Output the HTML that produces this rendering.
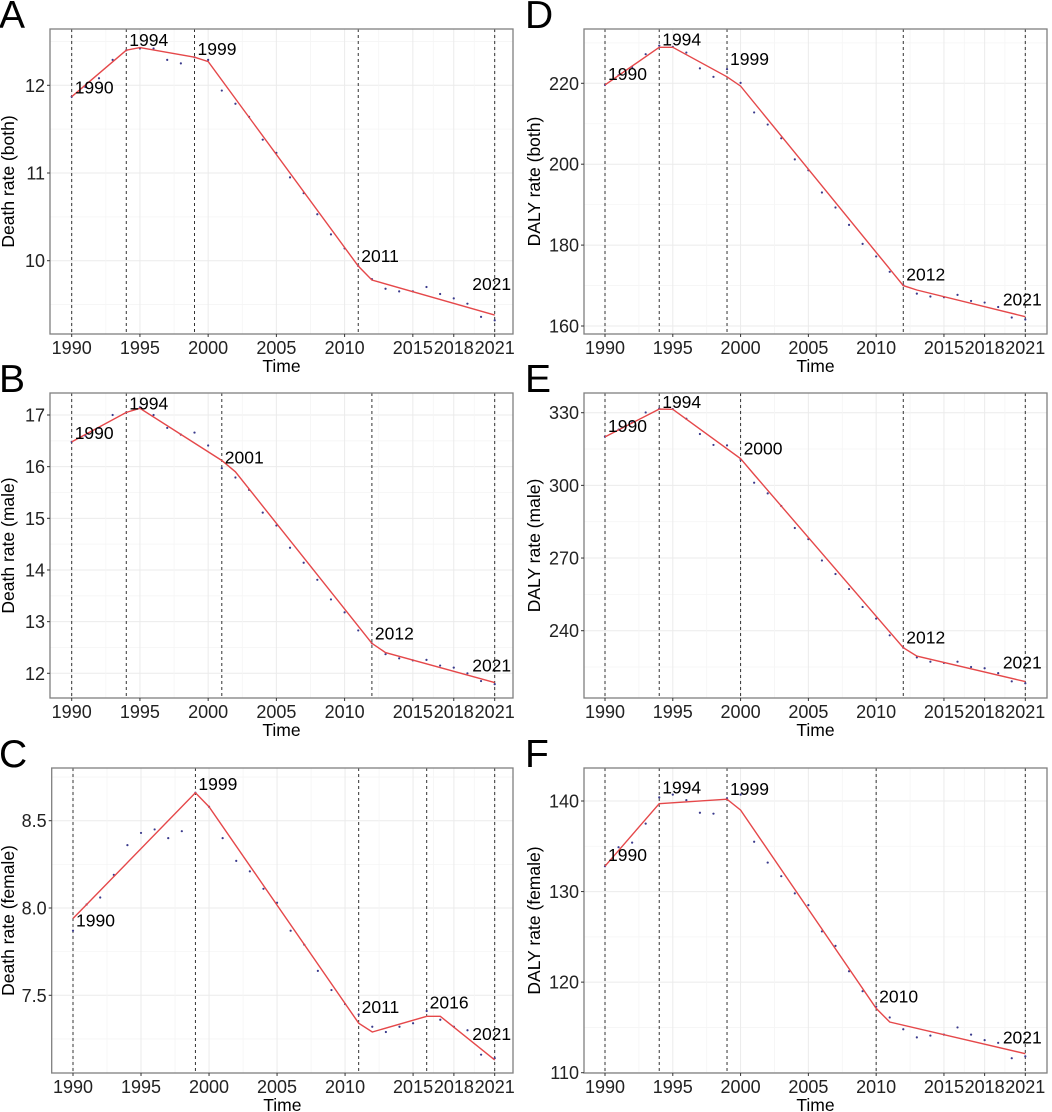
<!DOCTYPE html>
<html><head><meta charset="utf-8">
<style>
html,body{margin:0;padding:0;background:#fff;}
svg{display:block;font-family:"Liberation Sans",Arial,sans-serif;}
</style></head>
<body>
<svg id="fig" width="1052" height="1112" viewBox="0 0 1052 1112"></svg>
<script>
// ---- data ----
const years = [1990,1991,1992,1993,1994,1995,1996,1997,1998,1999,2000,2001,2002,2003,2004,2005,2006,2007,2008,2009,2010,2011,2012,2013,2014,2015,2016,2017,2018,2019,2020,2021];
const xTicks = [1990,1995,2000,2005,2010,2015,2018,2021];

const deathBoth = [11.87,11.98,12.08,12.29,12.40,12.42,12.42,12.29,12.25,12.32,12.29,11.94,11.79,11.64,11.38,11.23,10.95,10.77,10.53,10.30,10.14,9.94,9.79,9.68,9.65,9.65,9.70,9.62,9.57,9.51,9.36,9.32];
const fitYearsA = [1990,1994,1995,1999,2000,2011,2012,2021];
const fitA = [11.87,12.40,12.43,12.32,12.27,9.94,9.78,9.38];
const breaksA = [1990,1994,1999,2011,2021];
const yTicksA = [10,11,12];

const deathMale = [16.48,16.60,16.75,17.00,17.05,17.15,17.00,16.75,16.62,16.66,16.41,15.97,15.79,15.55,15.11,14.86,14.43,14.14,13.81,13.43,13.18,12.83,12.58,12.37,12.29,12.25,12.26,12.15,12.11,12.00,11.85,11.79];
const fitYearsB = [1990,1994,1995,2001,2002,2012,2013,2021];
const fitB = [16.48,17.05,17.13,16.12,15.90,12.58,12.40,11.82];
const breaksB = [1990,1994,2001,2012,2021];
const yTicksB = [12,13,14,15,16,17];

const deathFemale = [7.87,8.02,8.06,8.19,8.36,8.43,8.45,8.40,8.44,8.66,8.58,8.40,8.27,8.21,8.11,8.03,7.87,7.79,7.64,7.53,7.45,7.39,7.32,7.29,7.32,7.34,7.41,7.36,7.32,7.30,7.16,7.14];
const fitYearsC = [1990,1999,2000,2011,2012,2016,2017,2021];
const fitC = [7.94,8.66,8.58,7.34,7.29,7.38,7.38,7.13];
const breaksC = [1990,1999,2011,2016,2021];
const yTicksC = [7.5,8.0,8.5];

const dalyBoth = [219.6,222.0,224.0,227.2,229.3,229.0,227.6,223.7,221.6,223.5,220.1,212.8,209.8,206.4,201.2,198.5,193.0,189.3,185.0,180.3,177.2,173.4,170.1,168.0,167.3,167.1,167.7,166.2,165.8,164.7,162.1,161.6];
const fitYearsD = [1990,1994,1995,1999,2000,2012,2013,2021];
const fitD = [219.6,228.9,228.9,221.6,219.3,170.0,168.9,162.3];
const breaksD = [1990,1994,1999,2012,2021];
const yTicksD = [160,180,200,220];

const dalyMale = [320.1,323.0,326.0,330.1,331.7,331.5,327.5,321.2,316.7,316.5,310.5,301.1,296.7,291.5,282.4,277.8,269.0,263.4,257.2,249.8,245.0,238.1,233.0,229.0,227.2,226.7,227.2,225.0,224.5,222.5,219.1,218.3];
const fitYearsE = [1990,1994,1995,2000,2001,2012,2013,2021];
const fitE = [320.0,331.5,331.4,311.0,304.5,233.0,229.5,219.0];
const breaksE = [1990,1994,2000,2012,2021];
const yTicksE = [240,270,300,330];

const dalyFemale = [132.8,134.9,135.4,137.5,140.4,140.7,140.1,138.7,138.6,140.3,140.7,135.5,133.2,131.7,129.8,128.5,125.6,124.0,121.2,119.0,117.3,116.1,114.8,113.9,114.1,114.2,115.0,114.2,113.6,113.3,111.6,111.8];
const fitYearsF = [1990,1994,1999,2000,2010,2011,2021];
const fitF = [132.8,139.7,140.2,139.0,117.1,115.6,112.1];
const breaksF = [1990,1994,1999,2010,2021];
const yTicksF = [110,120,130,140];

// ---- layout (positions / styles) ----
const NS = "http://www.w3.org/2000/svg";
const svg = document.getElementById('fig');
function mk(tag, attrs, parent){
  const e = document.createElementNS(NS, tag);
  for (const k in attrs) e.setAttribute(k, attrs[k]);
  (parent||svg).appendChild(e);
  return e;
}

const panels = [
 {id:'a', letter:'A', title:'Death rate (both)', pts:deathBoth, fy:fitYearsA, fv:fitA, br:breaksA, yt:yTicksA, fmt:v=>String(v),
  box:[50,29,513,334], xr:[71.7,494.7], yr:[[12,85.3],[10,260.7]], dy:[-3,-4,-2,-4,-25], letterX:0, titleX:14},
 {id:'b', letter:'B', title:'Death rate (male)', pts:deathMale, fy:fitYearsB, fv:fitB, br:breaksB, yt:yTicksB, fmt:v=>String(v),
  box:[50,393,513,698], xr:[71.7,494.7], yr:[[17,415],[12,673.3]], dy:[-3,-3,3,-4,-11], letterX:0, titleX:14},
 {id:'c', letter:'C', title:'Death rate (female)', pts:deathFemale, fy:fitYearsC, fv:fitC, br:breaksC, yt:yTicksC, fmt:v=>v.toFixed(1),
  box:[51.7,768,513,1073], xr:[73,494.7], yr:[[8.5,820.7],[7.5,995.3]], dy:[8,-3,-10,-8,-20], letterX:0, titleX:14},
 {id:'d', letter:'D', title:'DALY rate (both)', pts:dalyBoth, fy:fitYearsD, fv:fitD, br:breaksD, yt:yTicksD, fmt:v=>String(v),
  box:[584,29,1047,334], xr:[605,1025.3], yr:[[220,83.3],[160,326]], dy:[-5,-2,-12,-5,-11], letterX:526, titleX:540},
 {id:'e', letter:'E', title:'DALY rate (male)', pts:dalyMale, fy:fitYearsE, fv:fitE, br:breaksE, yt:yTicksE, fmt:v=>String(v),
  box:[584,393,1047,698], xr:[605,1025.3], yr:[[330,412.7],[240,630.7]], dy:[-5,-1,-4,-4,-13], letterX:526, titleX:540},
 {id:'f', letter:'F', title:'DALY rate (female)', pts:dalyFemale, fy:fitYearsF, fv:fitF, br:breaksF, yt:yTicksF, fmt:v=>String(v),
  box:[584,768,1047,1073], xr:[605,1025.3], yr:[[140,801],[110,1072.7]], dy:[-5,-10,-4,-6,-10], letterX:526, titleX:540}
];

panels.forEach(p=>{
  const [x0,y0,x1,y1] = p.box;
  const xs = yr => p.xr[0] + (yr-1990)*(p.xr[1]-p.xr[0])/31;
  const [[va,pa],[vb,pb]] = p.yr;
  const ys = v => pa + (v-va)*(pb-pa)/(vb-va);
  const g = mk('g',{});
  
  

  const L = mk('text',{x:p.letterX-1, y:y0-1, 'font-size':39, fill:'#000'}, g);
  L.textContent = p.letter;
  
  

  const grid = mk('g',{}, g);
  
  
  const step = p.yt[1]-p.yt[0];
  const vals = [y0,y1].map(py=>va+(py-pa)*(vb-va)/(pb-pa));
  const vLow = Math.min(...vals), vHigh = Math.max(...vals);
  for (let v = p.yt[0]-step/2; v <= vHigh; v += step/2){
    if (v < vLow) continue;
    const py = ys(v);
    const major = p.yt.some(t=>Math.abs(t-v)<1e-9);
    mk('line',{x1:x0,x2:x1,y1:py,y2:py,stroke:major?'#ebebeb':'#f5f5f5','stroke-width':major?1:0.8}, grid);
  }
  const xMinor = [];
  for (let i=0;i<xTicks.length-1;i++) xMinor.push((xTicks[i]+xTicks[i+1])/2);
  xMinor.push(1987.5);
  xMinor.forEach(t=>{ const px=xs(t); if(px>x0&&px<x1) mk('line',{x1:px,x2:px,y1:y0,y2:y1,stroke:'#f5f5f5','stroke-width':0.8}, grid); });
  xTicks.forEach(t=>{ const px=xs(t); mk('line',{x1:px,x2:px,y1:y0,y2:y1,stroke:'#ebebeb','stroke-width':1}, grid); });

  p.br.forEach(b=>{
    const l = mk('line',{x1:xs(b),x2:xs(b),y1:y0,y2:y1,stroke:'#333','stroke-width':1,'stroke-dasharray':'3,3'}, g);
    
    
  });

  p.pts.forEach((v,i)=>{
    const c = mk('circle',{cx:xs(years[i]), cy:ys(v), r:1.1, fill:'#3a3a8c'}, g);
    
    
  });

  const d = p.fy.map((yr,i)=>(i?'L':'M')+xs(yr).toFixed(1)+','+ys(p.fv[i]).toFixed(1)).join(' ');
  const fl = mk('path',{d:d, fill:'none', stroke:'#e5484a','stroke-width':1.4}, g);
  
  

  p.br.forEach((b,i)=>{
    let idx = p.fy.indexOf(b);
    const fv = idx>=0 ? p.fv[idx] : p.fv[p.fv.length-1];
    const last = i===p.br.length-1;
    const t = mk('text',{x: last? xs(b)-3 : xs(b)+3, y: ys(fv)+p.dy[i], 'font-size':17.5, fill:'#000', 'text-anchor': last?'middle':'start'}, g);
    t.textContent = String(b);
    
    
  });

  const bd = mk('rect',{x:x0,y:y0,width:x1-x0,height:y1-y0,fill:'none',stroke:'#7f7f7f','stroke-width':1.3}, g);
  
  

  p.yt.forEach(v=>{
    const py = ys(v);
    mk('line',{x1:x0-3,x2:x0,y1:py,y2:py,stroke:'#333','stroke-width':1}, g);
    const t = mk('text',{x:x0-5, y:py+6.5, 'font-size':18, fill:'#222','text-anchor':'end'}, g);
    t.textContent = p.fmt(v);
    
    
  });
  xTicks.forEach(v=>{
    const px = xs(v);
    mk('line',{x1:px,x2:px,y1:y1,y2:y1+3,stroke:'#333','stroke-width':1}, g);
    const t = mk('text',{x:px, y:y1+20, 'font-size':18, fill:'#222','text-anchor':'middle'}, g);
    t.textContent = String(v);
    
    
  });
  const xt = mk('text',{x:(x0+x1)/2, y:y1+38, 'font-size':17.5, fill:'#000','text-anchor':'middle'}, g);
  xt.textContent = 'Time';
  
  
  const cy = (y0+y1)/2;
  const yt = mk('text',{x:p.titleX, y:cy, 'font-size':17.5, fill:'#000','text-anchor':'middle', transform:'rotate(-90 '+p.titleX+' '+cy+')'}, g);
  yt.textContent = p.title;
  
  
});
</script>
</body></html>
